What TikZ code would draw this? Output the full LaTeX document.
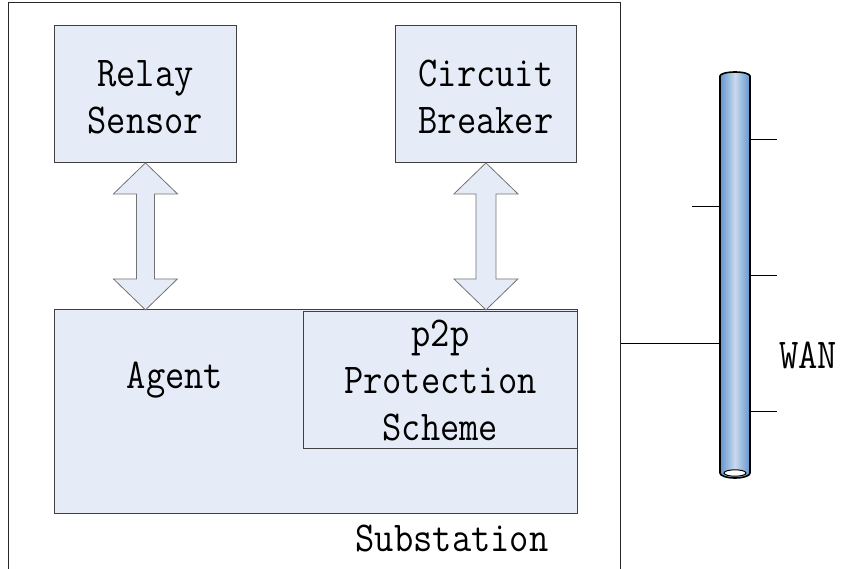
\documentclass[tikz,border=0pt]{standalone}
\usepackage{fontspec}
\newfontfamily\diagfont[FakeStretch=0.88]{Latin Modern Mono}
\begin{document}
\begin{tikzpicture}[x=1pt,y=-1pt,
  box/.style={draw=black!75,line width=0.9pt,fill=boxfill,anchor=north west,inner sep=0pt},
  txt/.style={font=\diagfont\fontsize{42.5}{47}\selectfont,align=center,inner sep=0pt,text=black},
  arr/.style={draw=black!55,line width=0.8pt,fill=boxfill,line join=miter},
  tick/.style={draw=black,line width=0.8pt}]
\definecolor{boxfill}{HTML}{E6ECF7}
\definecolor{pipeedge}{HTML}{6396CE}
\definecolor{pipemid}{HTML}{C9D9EE}
\useasboundingbox (0,0) rectangle (841,568);
% substation
\node[box,draw=black!85,fill=white,minimum width=612pt,minimum height=575pt] (sub) at (8,2) {};
\node[txt,anchor=base] (subl) at (452,551) {Substation};
% top boxes
\node[box,minimum width=182pt,minimum height=137pt] (rs) at (54,25) {};
\node[txt] (rst) at ([yshift=-3pt]rs.center) {Relay\\Sensor};
\node[box,minimum width=181pt,minimum height=137pt] (cb) at (395,25) {};
\node[txt] (cbt) at ([yshift=-3pt]cb.center) {Circuit\\Breaker};
% agent
\node[box,minimum width=523pt,minimum height=204pt] (agent) at (54,309) {};
\node[txt,anchor=base] (agt) at (175,388) {Agent};
\node[box,minimum width=274pt,minimum height=137pt] (p2p) at (303,311) {};
\node[txt] (p2pt) at ([yshift=-1pt]p2p.center) {p2p\\Protection\\Scheme};
% double arrows
\draw[arr] (rs.south) -- ++(32,31) -- ++(-23,0) -- ++(0,85) -- ++(23,0) -- ++(-32,31)
  -- ++(-32,-31) -- ++(23,0) -- ++(0,-85) -- ++(-23,0) -- cycle;
\draw[arr] (cb.south) -- ++(32,31) -- ++(-22,0) -- ++(0,85) -- ++(22,0) -- ++(-32,31)
  -- ++(-32,-31) -- ++(22,0) -- ++(0,-85) -- ++(-22,0) -- cycle;
% WAN pipe
\shade[left color=pipeedge,right color=pipeedge,middle color=pipemid]
  (720,76) -- (720,473) arc[start angle=180,end angle=0,x radius=15,y radius=5]
  -- (750,76) arc[start angle=0,end angle=-180,x radius=15,y radius=4] -- cycle;
\draw[line width=1.6pt,black]
  (720,76) -- (720,473) arc[start angle=180,end angle=0,x radius=15,y radius=5]
  -- (750,76) arc[start angle=0,end angle=-180,x radius=15,y radius=4] -- cycle;
\draw[line width=1pt,black,fill=white] (735,473) ellipse[x radius=11,y radius=3.2];
\coordinate (pL1) at (720,206);
\coordinate (pL2) at (720,343);
\coordinate (pR1) at (750,139);
\coordinate (pR2) at (750,275);
\coordinate (pR3) at (750,411);
\draw[tick] (pR1) -- ++(27,0);
\draw[tick] (pR2) -- ++(27,0);
\draw[tick] (pR3) -- ++(27,0);
\draw[tick] (pL1) -- ++(-28,0);
\draw[tick] (sub.east |- pL2) -- (pL2);
\node[txt,anchor=base] (wan) at (808,368) {WAN};
\end{tikzpicture}
\end{document}
